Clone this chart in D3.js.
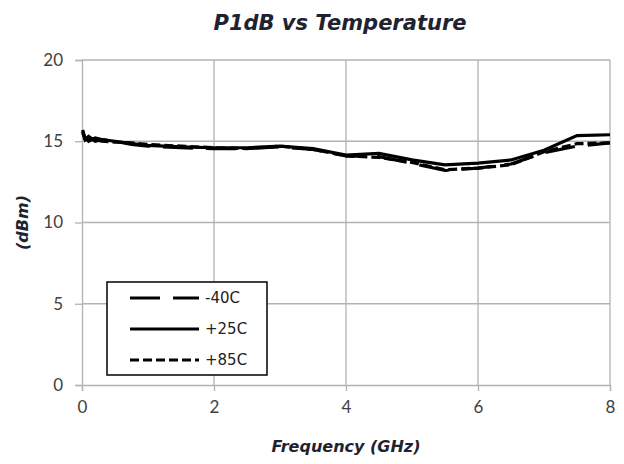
<!DOCTYPE html>
<html>
<head>
<meta charset="utf-8">
<script src="https://cdn.jsdelivr.net/npm/d3@7"></script>
<style>
    body { margin: 0; background: #fff; }
    svg { display: block; }
</style>
</head>
<body>
<svg id="chart" width="624" height="464"></svg>
<script>
/* --------------------------------------------------------------
DATOS
-------------------------------------------------------------- */

const FREQ = [0.01, 0.05, 0.1, 0.2, 0.3, 0.5, 0.75, 1, 1.5, 2, 2.5, 3, 3.5, 4, 4.5, 5, 5.5, 6, 6.5, 7, 7.5, 8];

const P1DB_M40 = [15.5, 15.2, 15.0, 15.2, 15.1, 15.0, 14.8, 14.7, 14.6, 14.55, 14.55, 14.65, 14.5, 14.1, 14.05, 13.65, 13.2, 13.35, 13.6, 14.3, 14.7, 14.9];
const P1DB_P25 = [15.7, 15.1, 15.3, 15.0, 15.1, 15.0, 14.85, 14.75, 14.65, 14.6, 14.6, 14.7, 14.55, 14.15, 14.25, 13.85, 13.55, 13.65, 13.85, 14.45, 15.35, 15.4];
const P1DB_P85 = [15.6, 15.0, 15.2, 15.1, 15.0, 14.95, 14.9, 14.8, 14.7, 14.6, 14.55, 14.7, 14.5, 14.1, 14.0, 13.7, 13.25, 13.35, 13.55, 14.35, 14.85, 14.9];

const SERIES_NAMES = ["-40C", "+25C", "+85C"];
const X_TICKS = [0, 2, 4, 6, 8];
const Y_TICKS = [0, 5, 10, 15, 20];

const DASHES = { "-40C": "30,13", "+25C": null, "+85C": "9,4" };

/* --------------------------------------------------------------
ESCALAS
-------------------------------------------------------------- */

const svg = d3.select("#chart");
const plotLeft = 82, plotRight = 610, plotTop = 60, plotBottom = 385;

const x = d3.scaleLinear().domain([0, 8]).range([plotLeft, plotRight]);
const y = d3.scaleLinear().domain([0, 20]).range([plotBottom, plotTop]);

const GRID = "#b3b3b3";
const SANS = "'DejaVu Sans', sans-serif";

/* --------------------------------------------------------------
GRID + EJES
-------------------------------------------------------------- */

svg.append("g")
    .selectAll("line")
    .data(Y_TICKS.slice(1))
    .enter()
    .append("line")
    .attr("x1", plotLeft).attr("x2", plotRight)
    .attr("y1", d => y(d)).attr("y2", d => y(d))
    .attr("stroke", GRID).attr("stroke-width", 1.3);

svg.append("g")
    .selectAll("line")
    .data(X_TICKS.slice(1))
    .enter()
    .append("line")
    .attr("x1", d => x(d)).attr("x2", d => x(d))
    .attr("y1", plotTop).attr("y2", plotBottom)
    .attr("stroke", GRID).attr("stroke-width", 1.3);

const xAxis = svg.append("g")
    .attr("transform", `translate(0,${plotBottom})`)
    .call(d3.axisBottom(x).tickValues(X_TICKS).tickSize(6).tickPadding(10));

const yAxis = svg.append("g")
    .attr("transform", `translate(${plotLeft},0)`)
    .call(d3.axisLeft(y).tickValues(Y_TICKS).tickSize(7).tickPadding(12));

[xAxis, yAxis].forEach(ax => {
    ax.select(".domain").attr("stroke", GRID).attr("stroke-width", 1.3);
    ax.selectAll(".tick line").attr("stroke", GRID).attr("stroke-width", 1.3);
    ax.selectAll("text")
        .attr("fill", "#404040")
        .style("font-family", "Lato, sans-serif")
        .style("font-size", "17px");
});

/* --------------------------------------------------------------
LINEAS
-------------------------------------------------------------- */

const seriesData = {
    "-40C": P1DB_M40,
    "+25C": P1DB_P25,
    "+85C": P1DB_P85
};

const line = d3.line()
    .x((d, i) => x(FREQ[i]))
    .y(d => y(d));

SERIES_NAMES.forEach(name => {
    svg.append("path")
        .datum(seriesData[name])
        .attr("d", line)
        .attr("fill", "none")
        .attr("stroke", "#000")
        .attr("stroke-width", 3.2)
        .attr("stroke-dasharray", DASHES[name]);
});

/* --------------------------------------------------------------
LEYENDA
-------------------------------------------------------------- */

const legend = svg.append("g");

legend.append("rect")
    .attr("x", 107).attr("y", 282)
    .attr("width", 160).attr("height", 93)
    .attr("fill", "#fff")
    .attr("stroke", "#000")
    .attr("stroke-width", 1.5);

SERIES_NAMES.forEach((name, i) => {
    const ly = 298 + i * 31;
    legend.append("line")
        .attr("x1", 130).attr("x2", 199)
        .attr("y1", ly).attr("y2", ly)
        .attr("stroke", "#000")
        .attr("stroke-width", 3.2)
        .attr("stroke-dasharray", DASHES[name]);
    legend.append("text")
        .attr("x", 205).attr("y", ly)
        .attr("dy", "0.35em")
        .attr("fill", "#222")
        .style("font-family", SANS)
        .style("font-size", "15px")
        .text(name);
});

/* --------------------------------------------------------------
TITULOS
-------------------------------------------------------------- */

svg.append("text")
    .attr("x", 340).attr("y", 30)
    .attr("text-anchor", "middle")
    .attr("fill", "#1f2330")
    .style("font-family", SANS)
    .style("font-size", "21px")
    .style("font-weight", "bold")
    .style("font-style", "italic")
    .text("P1dB vs Temperature");

svg.append("text")
    .attr("x", (plotLeft + plotRight) / 2).attr("y", 452)
    .attr("text-anchor", "middle")
    .attr("fill", "#1f2330")
    .style("font-family", SANS)
    .style("font-size", "16px")
    .style("font-weight", "bold")
    .style("font-style", "italic")
    .text("Frequency (GHz)");

svg.append("text")
    .attr("transform", `translate(28,${(plotTop + plotBottom) / 2}) rotate(-90)`)
    .attr("text-anchor", "middle")
    .attr("fill", "#1f2330")
    .style("font-family", SANS)
    .style("font-size", "16px")
    .style("font-weight", "bold")
    .style("font-style", "italic")
    .text("(dBm)");
</script>
</body>
</html>
